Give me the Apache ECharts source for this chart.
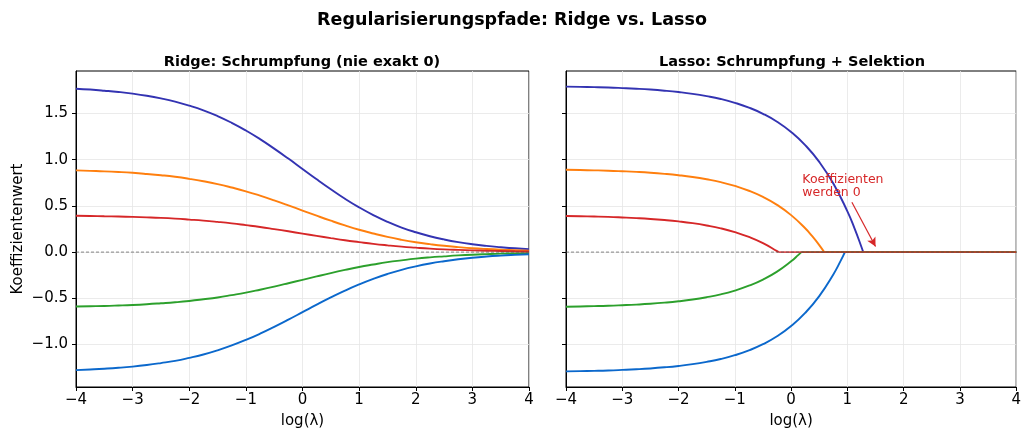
<!DOCTYPE html>
<html>
<head>
<meta charset="utf-8">
<script src="https://cdn.jsdelivr.net/npm/echarts@6/dist/echarts.min.js"></script>
<style>
  html, body { margin: 0; padding: 0; background: #fff; }
  #chart { width: 1024px; height: 434px; }
</style>
</head>
<body>
<div id="chart"></div>
<script>
// log(lambda) sample positions, step 0.25
const xs = [-4, -3.75, -3.5, -3.25, -3, -2.75, -2.5, -2.25, -2, -1.75, -1.5, -1.25, -1, -0.75, -0.5, -0.25,
            0, 0.25, 0.5, 0.75, 1, 1.25, 1.5, 1.75, 2, 2.25, 2.5, 2.75, 3, 3.25, 3.5, 3.75, 4];

// Ridge coefficient paths (shrink smoothly, never exactly zero)
const ridgePurple = [1.768, 1.759, 1.747, 1.733, 1.715, 1.692, 1.663, 1.628, 1.585, 1.534, 1.472, 1.399, 1.316, 1.223, 1.120, 1.012,
                     0.900, 0.788, 0.680, 0.577, 0.484, 0.401, 0.328, 0.266, 0.215, 0.172, 0.137, 0.108, 0.085, 0.067, 0.053, 0.041, 0.032];
const ridgeOrange = [0.884, 0.879, 0.874, 0.867, 0.858, 0.846, 0.832, 0.815, 0.793, 0.767, 0.736, 0.699, 0.658, 0.611, 0.560, 0.506,
                     0.450, 0.394, 0.340, 0.289, 0.242, 0.201, 0.164, 0.133, 0.107, 0.086, 0.068, 0.054, 0.042, 0.033, 0.026, 0.021, 0.016];
const ridgeRed    = [0.393, 0.391, 0.388, 0.385, 0.381, 0.376, 0.370, 0.362, 0.352, 0.341, 0.327, 0.311, 0.292, 0.272, 0.249, 0.225,
                     0.200, 0.175, 0.151, 0.128, 0.108, 0.089, 0.073, 0.059, 0.048, 0.038, 0.030, 0.024, 0.019, 0.015, 0.012, 0.009, 0.007];
const ridgeGreen  = [-0.589, -0.586, -0.583, -0.578, -0.572, -0.564, -0.554, -0.543, -0.529, -0.511, -0.491, -0.466, -0.439, -0.407, -0.373, -0.337,
                     -0.300, -0.263, -0.227, -0.193, -0.161, -0.134, -0.109, -0.089, -0.071, -0.057, -0.046, -0.036, -0.028, -0.022, -0.017, -0.014, -0.011];
const ridgeBlue   = [-1.277, -1.270, -1.262, -1.252, -1.239, -1.222, -1.201, -1.177, -1.145, -1.108, -1.063, -1.010, -0.950, -0.883, -0.809, -0.731,
                     -0.650, -0.569, -0.491, -0.417, -0.350, -0.290, -0.237, -0.192, -0.155, -0.124, -0.099, -0.078, -0.061, -0.048, -0.038, -0.030, -0.023];

// Lasso coefficient paths: [log(lambda), value] until each coefficient hits zero
const lassoPurple = [[-4, 1.791], [-3.75, 1.788], [-3.5, 1.785], [-3.25, 1.781], [-3, 1.775], [-2.75, 1.768], [-2.5, 1.759], [-2.25, 1.747],
                     [-2, 1.732], [-1.75, 1.713], [-1.5, 1.688], [-1.25, 1.657], [-1, 1.616], [-0.75, 1.564], [-0.5, 1.497], [-0.25, 1.411],
                     [0, 1.300], [0.25, 1.158], [0.5, 0.976], [0.75, 0.742], [1, 0.441], [1.125, 0.260], [1.25, 0.055], [1.281, 0]];
const lassoOrange = [[-4, 0.891], [-3.75, 0.888], [-3.5, 0.885], [-3.25, 0.881], [-3, 0.875], [-2.75, 0.868], [-2.5, 0.859], [-2.25, 0.847],
                     [-2, 0.832], [-1.75, 0.813], [-1.5, 0.788], [-1.25, 0.757], [-1, 0.716], [-0.75, 0.664], [-0.5, 0.597], [-0.25, 0.511],
                     [0, 0.400], [0.25, 0.258], [0.375, 0.172], [0.5, 0.076], [0.588, 0]];
const lassoRed    = [[-4, 0.391], [-3.75, 0.388], [-3.5, 0.385], [-3.25, 0.381], [-3, 0.375], [-2.75, 0.368], [-2.5, 0.359], [-2.25, 0.347],
                     [-2, 0.332], [-1.75, 0.313], [-1.5, 0.288], [-1.25, 0.257], [-1, 0.216], [-0.75, 0.164], [-0.5, 0.097], [-0.25, 0.011], [-0.223, 0]];
const lassoGreen  = [[-4, -0.591], [-3.75, -0.588], [-3.5, -0.585], [-3.25, -0.581], [-3, -0.575], [-2.75, -0.568], [-2.5, -0.559], [-2.25, -0.547],
                     [-2, -0.532], [-1.75, -0.513], [-1.5, -0.488], [-1.25, -0.457], [-1, -0.416], [-0.75, -0.364], [-0.5, -0.297], [-0.25, -0.211],
                     [0, -0.100], [0.125, -0.033], [0.182, 0]];
const lassoBlue   = [[-4, -1.291], [-3.75, -1.288], [-3.5, -1.285], [-3.25, -1.281], [-3, -1.275], [-2.75, -1.268], [-2.5, -1.259], [-2.25, -1.247],
                     [-2, -1.232], [-1.75, -1.213], [-1.5, -1.188], [-1.25, -1.157], [-1, -1.116], [-0.75, -1.064], [-0.5, -0.997], [-0.25, -0.911],
                     [0, -0.800], [0.25, -0.658], [0.5, -0.476], [0.75, -0.242], [0.875, -0.101], [0.956, 0]];
// Coefficients that stay at zero for larger lambda
const lassoZeroPurple = [[1.281, 0], [4, 0]];
const lassoZeroOrange = [[0.588, 0], [4, 0]];
const lassoZeroGreen  = [[0.182, 0], [4, 0]];
const lassoZeroBlue   = [[0.956, 0], [4, 0]];
const lassoZeroRed    = [[-0.223, 0], [4, 0]];

const yTicks = [-1.0, -0.5, 0.0, 0.5, 1.0, 1.5];

const colors = {
  purple: '#3333b2',
  orange: '#ff7f0e',
  red: '#d62728',
  green: '#2ca02c',
  blue: '#0b68cc'
};

const FONT = 'DejaVu Sans';
function fmt(v, digits) {
  const n = Number(v);
  const s = Math.abs(n).toFixed(digits);
  return n < 0 ? '\u2212' + s : s;
}

function xAxis(gridIndex) {
  return {
    type: 'value', gridIndex, min: -4, max: 4, interval: 1,
    name: 'log(\u03bb)', nameLocation: 'middle', nameGap: 27,
    nameTextStyle: { fontFamily: FONT, fontSize: 15, color: '#000' },
    axisLine: { show: true, onZero: false, lineStyle: { color: '#000', width: 1 } },
    axisTick: { show: true, length: 4, lineStyle: { color: '#000', width: 1 } },
    axisLabel: { fontFamily: FONT, fontSize: 15, color: '#000', margin: 6, formatter: v => fmt(v, 0) },
    splitLine: { show: true, lineStyle: { color: '#e6e6e6', width: 0.8 } }
  };
}

function yAxis(gridIndex, labels) {
  return {
    type: 'value', gridIndex, min: -1.46, max: 1.96,
    name: labels ? 'Koeffizientenwert' : '', nameLocation: 'middle', nameGap: 50,
    nameTextStyle: { fontFamily: FONT, fontSize: 15, color: '#000' },
    axisLine: { show: true, onZero: false, lineStyle: { color: '#000', width: 1 } },
    axisTick: { show: true, length: 4, customValues: yTicks, lineStyle: { color: '#000', width: 1 } },
    axisLabel: {
      show: labels, customValues: yTicks, fontFamily: FONT, fontSize: 15, color: '#000', margin: 8,
      formatter: v => fmt(v, 1)
    },
    splitLine: { show: true, lineStyle: { color: '#e6e6e6', width: 0.8 } }
  };
}

function ridgeSeries(values, color) {
  return {
    type: 'line', xAxisIndex: 0, yAxisIndex: 0, smooth: 0.5, showSymbol: false,
    data: xs.map((x, i) => [x, values[i]]),
    lineStyle: { color, width: 1.9 }, itemStyle: { color }, z: 3
  };
}

function lassoSeries(points, color, opacity) {
  return {
    type: 'line', xAxisIndex: 1, yAxisIndex: 1, smooth: 0.5, showSymbol: false,
    data: points,
    lineStyle: { color, width: 1.9, opacity: opacity == null ? 1 : opacity }, itemStyle: { color }, z: 3
  };
}

function zeroLine(xi, yi) {
  return {
    type: 'line', xAxisIndex: xi, yAxisIndex: yi, showSymbol: false, silent: true,
    data: [[-4, 0], [4, 0]],
    lineStyle: { color: '#555', width: 0.7, type: [3, 2] }, z: 5
  };
}

const chart = echarts.init(document.getElementById('chart'), null, { renderer: 'canvas' });

chart.setOption({
  animation: false,
  backgroundColor: '#fff',
  title: [
    { text: 'Regularisierungspfade: Ridge vs. Lasso', left: 'center', top: 6,
      textStyle: { fontFamily: FONT, fontSize: 17.5, fontWeight: 'bold', color: '#000' } },
    { text: 'Ridge: Schrumpfung (nie exakt 0)', left: 297, top: 50, textAlign: 'center',
      textStyle: { fontFamily: FONT, fontSize: 14.5, fontWeight: 'bold', color: '#000' } },
    { text: 'Lasso: Schrumpfung + Selektion', left: 787, top: 50, textAlign: 'center',
      textStyle: { fontFamily: FONT, fontSize: 14.5, fontWeight: 'bold', color: '#000' } }
  ],
  grid: [
    { left: 76, right: 495, top: 71, bottom: 45, show: true, borderColor: '#000', borderWidth: 1, backgroundColor: 'transparent' },
    { left: 566, right: 6, top: 71, bottom: 45, show: true, borderColor: '#000', borderWidth: 1, backgroundColor: 'transparent' }
  ],
  xAxis: [xAxis(0), xAxis(1)],
  yAxis: [yAxis(0, true), yAxis(1, false)],
  series: [
    ridgeSeries(ridgePurple, colors.purple),
    ridgeSeries(ridgeOrange, colors.orange),
    ridgeSeries(ridgeGreen, colors.green),
    ridgeSeries(ridgeRed, colors.red),
    ridgeSeries(ridgeBlue, colors.blue),
    zeroLine(0, 0),

    lassoSeries(lassoPurple, colors.purple),
    lassoSeries(lassoOrange, colors.orange),
    lassoSeries(lassoGreen, colors.green),
    lassoSeries(lassoRed, colors.red),
    lassoSeries(lassoBlue, colors.blue),
    lassoSeries(lassoZeroPurple, colors.purple),
    lassoSeries(lassoZeroBlue, colors.blue),
    lassoSeries(lassoZeroOrange, colors.orange),
    lassoSeries(lassoZeroGreen, colors.green),
    Object.assign(lassoSeries(lassoZeroRed, colors.red, 0.8), {
      markPoint: {
        symbol: 'circle', symbolSize: 0, silent: true,
        data: [{ coord: [0.2, 0.715] }],
        label: {
          show: true, position: 'right', distance: 0,
          formatter: 'Koeffizienten\nwerden 0',
          fontFamily: FONT, fontSize: 12.5, color: colors.red, lineHeight: 13.5, align: 'left'
        }
      },
      markLine: {
        silent: true, symbol: ['none', 'arrow'], symbolSize: [7, 9],
        label: { show: false },
        lineStyle: { color: colors.red, width: 1.2, type: 'solid' },
        data: [[{ coord: [1.08, 0.54] }, { coord: [1.5, 0.06] }]]
      }
    }),
    zeroLine(1, 1)
  ]
});
</script>
</body>
</html>
